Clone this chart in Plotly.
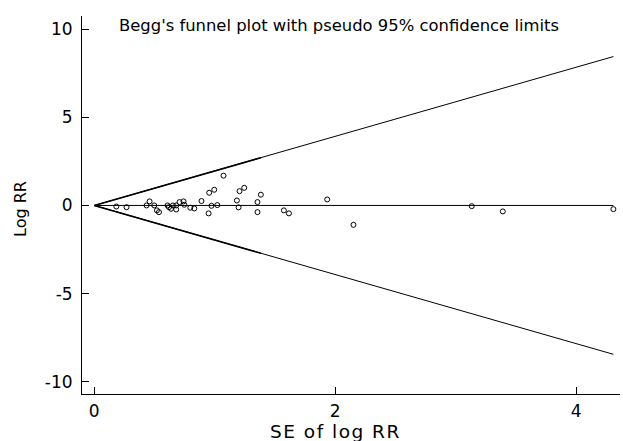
import plotly.graph_objects as go

# Standard error of log RR for each study
se_log_rr = [0.183, 0.268, 0.434, 0.459, 0.498, 0.520, 0.537, 0.608, 0.620, 0.637, 0.653, 0.680,
             0.680, 0.708, 0.741, 0.747, 0.797, 0.830, 0.890, 0.949, 0.954, 0.973, 0.996, 1.021,
             1.073, 1.184, 1.198, 1.206, 1.245, 1.355, 1.355, 1.383, 1.574, 1.616, 1.934, 2.152,
             3.134, 3.392, 4.310]
# Log RR for each study
log_rr = [-0.06, -0.10, 0.0, 0.23, 0.0, -0.28, -0.38, 0.0, -0.10, -0.19, 0.0, -0.23, 0.0,
          0.19, 0.23, 0.04, -0.13, -0.17, 0.25, -0.45, 0.72, -0.02, 0.89, 0.02, 1.69, 0.28,
          -0.11, 0.81, 1.00, 0.19, -0.38, 0.61, -0.28, -0.45, 0.34, -1.10, -0.04, -0.34, -0.21]

pooled = 0.0
z = 1.96
x_tick_vals = [0, 2, 4]
x_tick_text = ["0", "2", "4"]
y_tick_vals = [-10, -5, 0, 5, 10]
y_tick_text = ["-10", "-5", "0", "5", "10"]

se_sorted = [0.0] + sorted(se_log_rr)
upper = [pooled + z * s for s in se_sorted]
lower = [pooled - z * s for s in se_sorted]
mid = [pooled for _ in se_sorted]

# densely sampled part of the pseudo-CI lines (renders bolder in the original)
dense_se = [s for s in se_sorted if s < 1.5]
dense_up = [pooled + z * s for s in dense_se]
dense_lo = [pooled - z * s for s in dense_se]

W, H = 623, 441
L, R, T, B = 82, 3, 16, 47
PW, PH = W - L - R, H - T - B
FONT = "DejaVu Sans"

fig = go.Figure()
for ys in (upper, lower, mid):
    fig.add_trace(go.Scatter(x=se_sorted, y=ys, mode="lines",
                             line=dict(color="black", width=1), hoverinfo="skip"))
for ys in (dense_up, dense_lo):
    fig.add_trace(go.Scatter(x=dense_se, y=ys, mode="lines",
                             line=dict(color="black", width=1.6), hoverinfo="skip"))
fig.add_trace(go.Scatter(x=se_log_rr, y=log_rr, mode="markers",
                         marker=dict(symbol="circle-open", size=5, color="black",
                                     line=dict(width=1, color="black"))))

fig.update_layout(
    width=W, height=H,
    margin=dict(l=L, r=R, t=T, b=B),
    paper_bgcolor="white", plot_bgcolor="white",
    showlegend=False,
    font=dict(family=FONT, color="black", size=17),
    xaxis=dict(range=[-0.102, 4.365], tickvals=x_tick_vals, ticktext=x_tick_text,
               ticks="inside", ticklen=7, tickcolor="black", showline=True,
               linecolor="black", linewidth=1, showgrid=False, zeroline=False,
               tickfont=dict(size=17), ticklabelstandoff=2),
    yaxis=dict(range=[-10.70, 10.75], tickvals=y_tick_vals, ticktext=y_tick_text,
               ticks="inside", ticklen=7, tickcolor="black", showline=True,
               linecolor="black", linewidth=1, showgrid=False, zeroline=False,
               tickfont=dict(size=17), ticklabelstandoff=5),
    annotations=[
        dict(text="Begg's funnel plot with pseudo 95% confidence limits", xref="paper",
             yref="paper", x=(117 - L) / PW, y=1 - (25 - T) / PH,
             xanchor="left", yanchor="middle", showarrow=False, font=dict(size=16.4)),
        dict(text='<span style="letter-spacing:1.5px">SE of log RR</span>',
             xref="paper", yref="paper",
             x=(335 - L) / PW, y=-(431 - (H - B)) / PH,
             xanchor="center", yanchor="middle", showarrow=False, font=dict(size=18.5)),
        dict(text="Log RR", xref="paper", yref="paper", textangle=-90,
             x=-(L - 20) / PW, y=1 - (209 - T) / PH,
             xanchor="center", yanchor="middle", showarrow=False, font=dict(size=16)),
    ],
)

fig.write_html("out.html")
